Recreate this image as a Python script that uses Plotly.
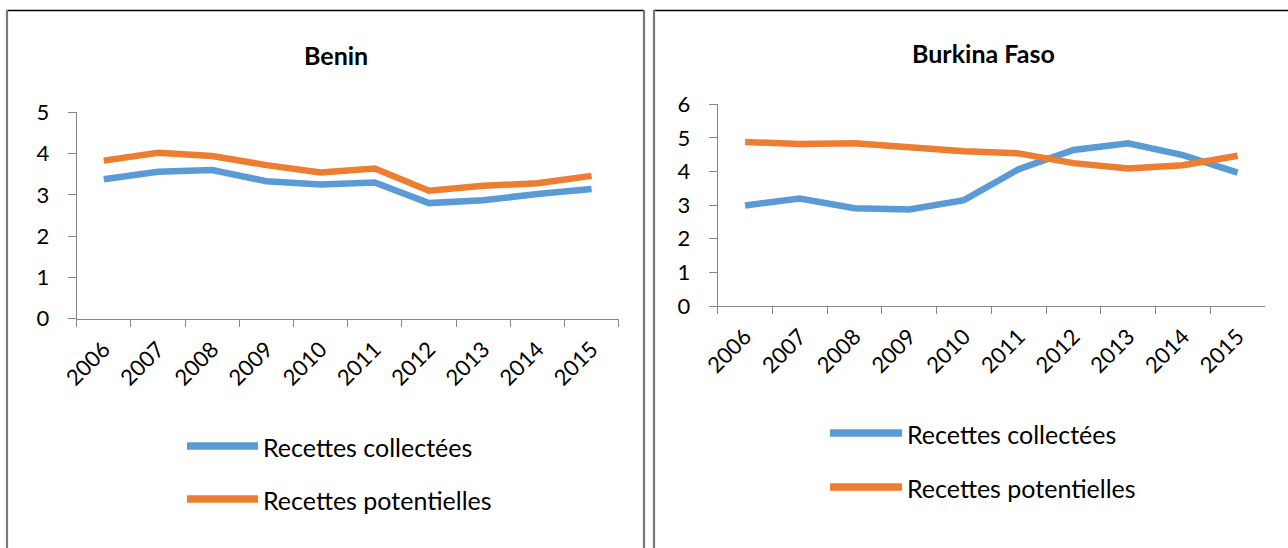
import plotly.graph_objects as go

# Recettes (en % du PIB), 2006-2015
years = ["2006", "2007", "2008", "2009", "2010", "2011", "2012", "2013", "2014", "2015"]
series_names = ["Recettes collectées", "Recettes potentielles"]

benin_collectees = [3.38, 3.56, 3.60, 3.33, 3.25, 3.30, 2.80, 2.87, 3.02, 3.14]
benin_potentielles = [3.83, 4.02, 3.94, 3.72, 3.54, 3.64, 3.10, 3.22, 3.28, 3.46]

burkina_collectees = [2.99, 3.20, 2.91, 2.87, 3.15, 4.07, 4.64, 4.84, 4.49, 3.97]
burkina_potentielles = [4.88, 4.82, 4.84, 4.72, 4.60, 4.54, 4.25, 4.09, 4.19, 4.47]

titles = ["Benin", "Burkina Faso"]

W, H = 1288, 548
BLUE = "#5B9BD5"
ORANGE = "#ED7D31"
AXIS = "#868686"
FONT = "Lato"


def px_x(x):
    return x / W


def px_y(y):
    return 1 - y / H


fig = go.Figure()

panels = [
    dict(xa="x", ya="y", data=[benin_collectees, benin_potentielles],
         xdom=(76.7, 618.7), ydom=(318.7, 112.3), yrange=5,
         frame=(7, 644), title_x=336, title_y=55,
         legend_line=(187, 258), legend_y=(446, 499)),
    dict(xa="x2", ya="y2", data=[burkina_collectees, burkina_potentielles],
         xdom=(717.7, 1265), ydom=(306, 104.3), yrange=6,
         frame=(654, 1300), title_x=983, title_y=53,
         legend_line=(830, 902), legend_y=(433, 487)),
]

colors = [BLUE, ORANGE]
shapes = []
annotations = []

for i, p in enumerate(panels):
    for name, vals, col in zip(series_names, p["data"], colors):
        fig.add_trace(go.Scatter(
            x=years, y=vals, name=name, mode="lines",
            line=dict(color=col, width=6.5),
            xaxis=p["xa"], yaxis=p["ya"], showlegend=False,
            hoverinfo="x+y",
        ))

    suffix = "" if i == 0 else "2"
    fig.update_layout(**{
        "xaxis" + suffix: dict(
            domain=[px_x(p["xdom"][0]), px_x(p["xdom"][1])],
            anchor="y" + suffix, automargin=False,
            type="category", range=[-0.5, 9.5], tickson="boundaries",
            showline=True, linecolor=AXIS, linewidth=1.3,
            ticks="outside", ticklen=7, tickcolor=AXIS, tickwidth=1.3,
            tickangle=-45, ticklabelstandoff=8,
            showgrid=False, zeroline=False,
            tickfont=dict(family=FONT, size=22, color="#000000"),
        ),
        "yaxis" + suffix: dict(
            domain=[px_y(p["ydom"][0]), px_y(p["ydom"][1])],
            anchor="x" + suffix, automargin=False,
            range=[0, p["yrange"]], dtick=1, tick0=0,
            showline=True, linecolor=AXIS, linewidth=1.3,
            ticks="outside", ticklen=8, tickcolor=AXIS, tickwidth=1.3,
            ticklabelstandoff=14,
            showgrid=False, zeroline=False,
            tickfont=dict(family=FONT, size=22, color="#000000"),
        ),
    })

    # chart frame
    fx0, fx1 = p["frame"]
    shapes.append(dict(type="line", xref="paper", yref="paper",
                       x0=px_x(fx0), x1=px_x(fx1), y0=px_y(10.5), y1=px_y(10.5),
                       line=dict(color="#000000", width=1.3)))
    for fx in (fx0, fx1):
        shapes.append(dict(type="line", xref="paper", yref="paper",
                           x0=px_x(fx), x1=px_x(fx), y0=px_y(10), y1=px_y(560),
                           line=dict(color="#7a7a7a", width=2.2)))

    # title
    annotations.append(dict(text="<b>%s</b>" % titles[i], xref="paper", yref="paper",
                            x=px_x(p["title_x"]), y=px_y(p["title_y"]),
                            xanchor="center", yanchor="middle", showarrow=False,
                            font=dict(family=FONT, size=25, color="#000000")))

    # legend
    lx0, lx1 = p["legend_line"]
    for name, col, ly in zip(series_names, colors, p["legend_y"]):
        shapes.append(dict(type="line", xref="paper", yref="paper",
                           x0=px_x(lx0), x1=px_x(lx1), y0=px_y(ly), y1=px_y(ly),
                           line=dict(color=col, width=7.5)))
        annotations.append(dict(text=name, xref="paper", yref="paper",
                                x=px_x(lx1 + 3), y=px_y(ly + 1),
                                xanchor="left", yanchor="middle", showarrow=False,
                                font=dict(family=FONT, size=25, color="#000000")))

fig.update_layout(
    template="none",
    width=W, height=H,
    margin=dict(l=0, r=0, t=0, b=0, pad=0, autoexpand=False),
    paper_bgcolor="#ffffff", plot_bgcolor="#ffffff",
    shapes=shapes, annotations=annotations,
    showlegend=False,
)

fig.write_html("out.html")
